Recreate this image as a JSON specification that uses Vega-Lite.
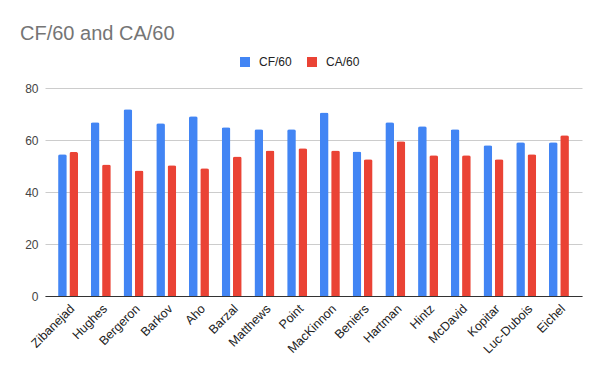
{
  "$schema": "https://vega.github.io/schema/vega-lite/v6.json",
  "width": 537,
  "height": 208,
  "autosize": {"type": "none"},
  "padding": {"left": 45, "top": 88, "right": 18, "bottom": 75},
  "background": "white",
  "title": {
    "text": "CF/60 and CA/60",
    "anchor": "start",
    "frame": "group",
    "dx": -25,
    "offset": 12,
    "font": "Liberation Sans",
    "fontSize": 20,
    "fontWeight": "normal",
    "color": "#757575"
  },
  "config": {
    "view": {"stroke": null},
    "font": "Liberation Sans"
  },
  "data": {
    "values": [
      {"player": "Zibanejad", "metric": "CF/60", "value": 54.5},
      {"player": "Zibanejad", "metric": "CA/60", "value": 55.4},
      {"player": "Hughes", "metric": "CF/60", "value": 66.8},
      {"player": "Hughes", "metric": "CA/60", "value": 50.6},
      {"player": "Bergeron", "metric": "CF/60", "value": 71.8},
      {"player": "Bergeron", "metric": "CA/60", "value": 48.3},
      {"player": "Barkov", "metric": "CF/60", "value": 66.4},
      {"player": "Barkov", "metric": "CA/60", "value": 50.3},
      {"player": "Aho", "metric": "CF/60", "value": 69.1},
      {"player": "Aho", "metric": "CA/60", "value": 49.1},
      {"player": "Barzal", "metric": "CF/60", "value": 64.9},
      {"player": "Barzal", "metric": "CA/60", "value": 53.7},
      {"player": "Matthews", "metric": "CF/60", "value": 64.1},
      {"player": "Matthews", "metric": "CA/60", "value": 56.0},
      {"player": "Point", "metric": "CF/60", "value": 64.1},
      {"player": "Point", "metric": "CA/60", "value": 56.8},
      {"player": "MacKinnon", "metric": "CF/60", "value": 70.6},
      {"player": "MacKinnon", "metric": "CA/60", "value": 56.0},
      {"player": "Beniers", "metric": "CF/60", "value": 55.6},
      {"player": "Beniers", "metric": "CA/60", "value": 52.6},
      {"player": "Hartman", "metric": "CF/60", "value": 66.8},
      {"player": "Hartman", "metric": "CA/60", "value": 59.5},
      {"player": "Hintz", "metric": "CF/60", "value": 65.3},
      {"player": "Hintz", "metric": "CA/60", "value": 54.1},
      {"player": "McDavid", "metric": "CF/60", "value": 64.1},
      {"player": "McDavid", "metric": "CA/60", "value": 54.1},
      {"player": "Kopitar", "metric": "CF/60", "value": 58.0},
      {"player": "Kopitar", "metric": "CA/60", "value": 52.6},
      {"player": "Luc-Dubois", "metric": "CF/60", "value": 59.1},
      {"player": "Luc-Dubois", "metric": "CA/60", "value": 54.5},
      {"player": "Eichel", "metric": "CF/60", "value": 59.1},
      {"player": "Eichel", "metric": "CA/60", "value": 61.8}
    ]
  },
  "mark": {"type": "bar", "cornerRadiusTopLeft": 2, "cornerRadiusTopRight": 2},
  "encoding": {
    "x": {
      "field": "player",
      "type": "nominal",
      "sort": null,
      "scale": {"paddingInner": 0.39, "paddingOuter": 0.4},
      "axis": {
        "title": null,
        "labelAngle": -45,
        "labelFontSize": 12.5,
        "labelColor": "#222222",
        "labelFont": "Liberation Sans",
        "ticks": false,
        "domainColor": "#333333",
        "domainWidth": 1,
        "labelPadding": 6
      }
    },
    "xOffset": {
      "field": "metric",
      "type": "nominal",
      "sort": ["CF/60", "CA/60"],
      "scale": {"paddingInner": 0.23}
    },
    "y": {
      "field": "value",
      "type": "quantitative",
      "scale": {"domain": [0, 80]},
      "axis": {
        "title": null,
        "values": [0, 20, 40, 60, 80],
        "domain": false,
        "ticks": false,
        "gridColor": "#cccccc",
        "labelFontSize": 12,
        "labelColor": "#444444",
        "labelFont": "Liberation Sans",
        "labelPadding": 7
      }
    },
    "color": {
      "field": "metric",
      "type": "nominal",
      "sort": ["CF/60", "CA/60"],
      "scale": {"domain": ["CF/60", "CA/60"], "range": ["#4285F4", "#EA4335"]},
      "legend": {
        "title": null,
        "orient": "none",
        "direction": "horizontal",
        "legendX": 194,
        "legendY": -32,
        "symbolType": "square",
        "symbolSize": 100,
        "symbolStrokeWidth": 0,
        "labelFontSize": 12,
        "labelColor": "#222222",
        "labelFont": "Liberation Sans",
        "columnPadding": 14,
        "labelOffset": 8
      }
    }
  }
}
